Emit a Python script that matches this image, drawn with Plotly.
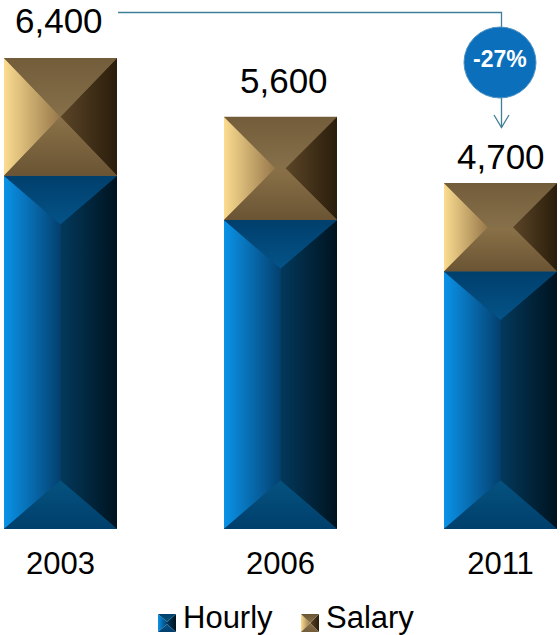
import plotly.graph_objects as go

# Headcount by pay type
years = ["2003", "2006", "2011"]
hourly = [4800, 4200, 3500]
salary = [1600, 1400, 1200]
totals = [6400, 5600, 4700]
total_labels = ["6,400", "5,600", "4,700"]
change_label = "-27%"
series_names = ["Hourly", "Salary"]

FONT = "Liberation Sans"
W, H = 560, 635
BASE_Y = 529          # pixel row of the value axis zero
PX_PER_UNIT = 0.0736  # vertical scale
PX_PER_CAT = 220      # horizontal scale
FIRST_CAT_PX = 60.5
BAR_PX = 113

HOURLY_STYLE = dict(
    base="#02497c",
    depth=0.43,  # vertical bevel depth as a share of the box width
    left=["#0a93e8", "#04406f"],
    right=["#03395c", "#00131f"],
    top=["#045388", "#003f6c"],
    bottom=["#003f6c", "#05527f"],
)
SALARY_STYLE = dict(
    base="#7a6240",
    depth=None,
    left=["#fbdc90", "#96774a"],
    right=["#5b4527", "#2a1d0b"],
    top=["#86704a", "#735c3a"],
    bottom=["#6a5433", "#8a7148"],
)


def face(xs, ys, colors, orientation, xaxis="x", yaxis="y"):
    lo, hi = (min(xs), max(xs)) if orientation == "horizontal" else (min(ys), max(ys))
    return go.Scatter(
        x=xs + xs[:1], y=ys + ys[:1], mode="lines", fill="toself",
        line=dict(width=0, color=colors[0]),
        fillgradient=dict(
            type=orientation, start=lo, stop=hi,
            colorscale=[[0, colors[0]], [1, colors[1]]],
        ),
        xaxis=xaxis, yaxis=yaxis, hoverinfo="skip", showlegend=False,
    )


def bevel(x0, x1, y0, y1, sx, sy, style, xaxis="x", yaxis="y"):
    """Four bevelled faces of a box; sx, sy are pixels per axis unit."""
    width_px = (x1 - x0) * abs(sx)
    height_px = (y1 - y0) * abs(sy)
    inset_x = min(width_px, height_px) / 2
    inset_y = height_px / 2
    if style["depth"] is not None:
        inset_y = min(inset_y, style["depth"] * width_px)
    elif height_px > width_px:
        inset_y = height_px / 2
    else:
        inset_y = inset_x
    dx, dy = inset_x / abs(sx), inset_y / abs(sy)
    ix0, ix1, iy0, iy1 = x0 + dx, x1 - dx, y0 + dy, y1 - dy
    kw = dict(xaxis=xaxis, yaxis=yaxis)
    return [
        face([x0, x0, ix0, ix0], [y0, y1, iy1, iy0], style["left"], "horizontal", **kw),
        face([x1, x1, ix1, ix1], [y0, y1, iy1, iy0], style["right"], "horizontal", **kw),
        face([x0, x1, ix1, ix0], [y1, y1, iy1, iy1], style["top"], "vertical", **kw),
        face([x0, x1, ix1, ix0], [y0, y0, iy0, iy0], style["bottom"], "vertical", **kw),
    ]


positions = list(range(len(years)))
half = BAR_PX / PX_PER_CAT / 2

fig = go.Figure()
fig.add_bar(x=positions, y=hourly, width=2 * half, marker=dict(color=HOURLY_STYLE["base"], line_width=0),
            name=series_names[0], showlegend=False, hoverinfo="skip")
fig.add_bar(x=positions, y=salary, width=2 * half, marker=dict(color=SALARY_STYLE["base"], line_width=0),
            name=series_names[1], showlegend=False, hoverinfo="skip")

for p, h, s in zip(positions, hourly, salary):
    for tr in bevel(p - half, p + half, 0, h, PX_PER_CAT, PX_PER_UNIT, HOURLY_STYLE):
        fig.add_trace(tr)
    for tr in bevel(p - half, p + half, h, h + s, PX_PER_CAT, PX_PER_UNIT, SALARY_STYLE):
        fig.add_trace(tr)

# Legend swatches sit on a full-page pixel axis pair
for x0, style in ((158, HOURLY_STYLE), (301, SALARY_STYLE)):
    for tr in bevel(x0, x0 + 18, 614, 632, 1, 1, style, "x2", "y2"):
        fig.add_trace(tr)

annotations = []
label_gaps = [16, 15, 5]
label_nudge = [-2, 3, 0]
for p, t, lab, gap, nudge in zip(positions, totals, total_labels, label_gaps, label_nudge):
    annotations.append(dict(
        x=p, y=t, xref="x", yref="y", text=lab, showarrow=False,
        yanchor="bottom", yshift=gap, xshift=nudge,
        font=dict(family=FONT, size=35, color="#000000"),
    ))
annotations.append(dict(
    x=500, y=59, xref="x2", yref="y2", text=f"<b>{change_label}</b>", showarrow=False,
    font=dict(family=FONT, size=23, color="#ffffff"),
))
for x, name in ((181, series_names[0]), (324, series_names[1])):
    annotations.append(dict(
        x=x, y=617, xref="x2", yref="y2", text=name, showarrow=False, xanchor="left",
        font=dict(family=FONT, size=31, color="#000000"),
    ))

CALLOUT = "#3f7f96"
line = dict(color=CALLOUT, width=1.3)
shapes = [
    dict(type="path", path="M 118 12.5 L 501.5 12.5 L 501.5 127.5", xref="x2", yref="y2", line=line),
    dict(type="path", path="M 494 115 L 501.5 127.5 L 509 115", xref="x2", yref="y2", line=line),
    dict(type="circle", x0=464, x1=536, y0=27, y1=98, xref="x2", yref="y2",
         fillcolor="#0b6fbb", line=dict(color="#4f93c4", width=1)),
]

fig.update_layout(
    width=W, height=H, barmode="stack", bargap=0,
    margin=dict(l=0, r=0, t=0, b=0), autosize=False,
    paper_bgcolor="#ffffff", plot_bgcolor="rgba(0,0,0,0)", showlegend=False,
    xaxis=dict(
        range=[-FIRST_CAT_PX / PX_PER_CAT, (W - FIRST_CAT_PX) / PX_PER_CAT], domain=[0, 1],
        tickmode="array", tickvals=positions, ticktext=years, ticks="", showline=False,
        showgrid=False, zeroline=False, ticklabelstandoff=13,
        tickfont=dict(family=FONT, size=31, color="#000000"),
    ),
    yaxis=dict(
        range=[0, BASE_Y / PX_PER_UNIT], domain=[(H - BASE_Y) / H, 1],
        visible=False, showgrid=False, zeroline=False,
    ),
    xaxis2=dict(range=[0, W], domain=[0, 1], anchor="y2", visible=False),
    yaxis2=dict(range=[H, 0], domain=[0, 1], anchor="x2", visible=False),
    annotations=annotations, shapes=shapes,
)

fig.write_html("out.html", config=dict(displayModeBar=False))
